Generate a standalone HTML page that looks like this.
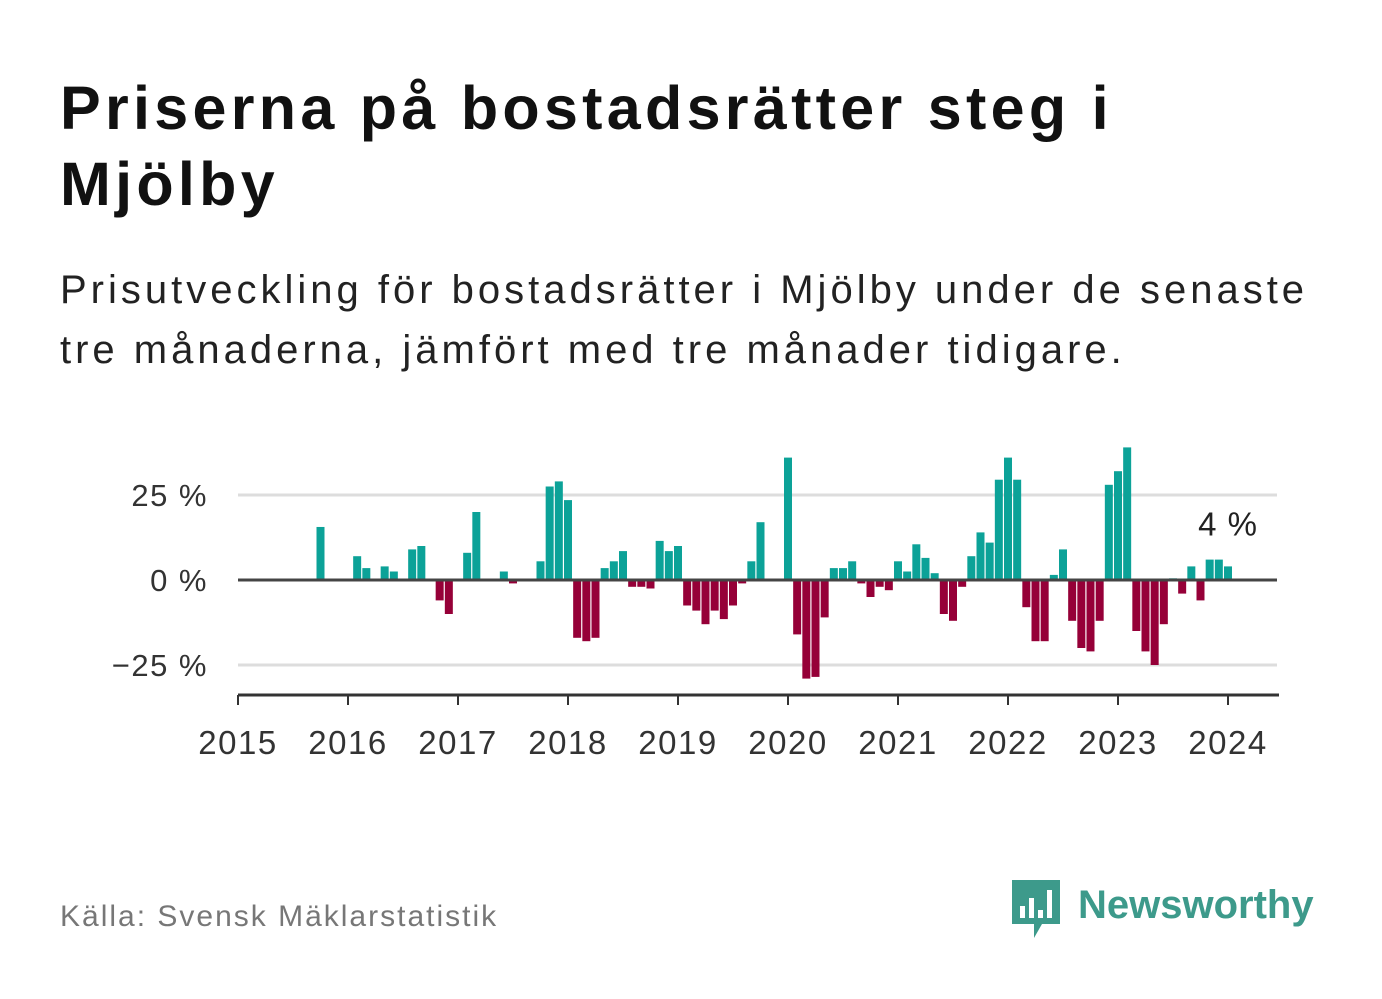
<!DOCTYPE html>
<html><head><meta charset="utf-8"><style>
body{margin:0;background:#fff;width:1382px;height:999px;overflow:hidden;font-family:"Liberation Sans","DejaVu Sans",sans-serif;}
h1{position:absolute;left:60px;top:70px;margin:0;font-size:61px;line-height:76px;font-weight:bold;color:#111;letter-spacing:4.3px;white-space:nowrap;}
.sub{position:absolute;left:60px;top:260px;font-size:40px;line-height:60px;color:#222;letter-spacing:4px;white-space:nowrap;}
.src{position:absolute;left:60px;top:900px;font-size:30px;color:#777;letter-spacing:2px;}
.logo{position:absolute;left:1012px;top:878px;}
</style></head><body>
<h1>Priserna på bostadsrätter steg i<br>Mjölby</h1>
<div class="sub">Prisutveckling för bostadsrätter i Mjölby under de senaste<br>tre månaderna, jämfört med tre månader tidigare.</div>
<svg id="chart" width="1382" height="999" style="position:absolute;left:0;top:0"></svg>
<div class="src">Källa: Svensk Mäklarstatistik</div>
<div class="logo">
<svg width="310" height="62"><path d="M0 2h48v44H30l-8 14v-14H0z" fill="#3d9a8b"/><rect x="8" y="28" width="5" height="12" fill="#fff"/><rect x="17" y="20" width="5" height="20" fill="#fff"/><rect x="26" y="32" width="5" height="8" fill="#fff"/><rect x="35" y="12" width="5" height="28" fill="#fff"/><text x="66" y="40" font-size="40" font-weight="bold" fill="#3d9a8b" font-family="Liberation Sans, sans-serif">Newsworthy</text></svg></div>
<script>
const months=[9,13,14,16,17,19,20,22,23,25,26,29,30,33,34,35,36,37,38,39,40,41,42,43,44,45,46,47,48,49,50,51,52,53,54,55,56,57,60,61,62,63,64,65,66,67,68,69,70,71,72,73,74,75,76,77,78,79,80,81,82,83,84,85,86,87,88,89,90,91,92,93,94,95,96,97,98,99,100,101,102,103,104,105,106,107,108];
const values=[15.6,7,3.5,4,2.5,9,10,-6,-10,8,20,2.5,-1,5.5,27.5,29,23.5,-17,-18,-17,3.5,5.5,8.5,-2,-2,-2.5,11.5,8.5,10,-7.5,-9,-13,-9,-11.5,-7.5,-1,5.5,17,36,-16,-29,-28.5,-11,3.5,3.5,5.5,-1,-5,-2,-3,5.5,2.5,10.5,6.5,2,-10,-12,-2,7,14,11,29.5,36,29.5,-8,-18,-18,1.5,9,-12,-20,-21,-12,28,32,39,-15,-21,-25,-13,0.5,-4,4,-6,6,6,4];
const yTicks=[25,0,-25];
const yTickLabels=["25 %","0 %","−25 %"];
const years=[2015,2016,2017,2018,2019,2020,2021,2022,2023,2024];
const NS="http://www.w3.org/2000/svg",svg=document.getElementById('chart');
const x=m=>238+m*(110/12);
const y=v=>580-v*3.4;
function el(t,a){const e=document.createElementNS(NS,t);for(const k in a)e.setAttribute(k,a[k]);svg.appendChild(e);return e;}
yTicks.forEach((t,i)=>{
 if(t!==0){const g=el('line',{x1:238,x2:1277,y1:y(t),y2:y(t),stroke:'#ddd','stroke-width':3});
 
 }
 const l=el('text',{x:208,y:y(t)+11,'text-anchor':'end','font-size':31,'letter-spacing':1.5,fill:'#333'});l.textContent=yTickLabels[i];
 
 
});
months.forEach((m,i)=>{const v=values[i];
 const r=el('rect',{x:x(m)-4,width:8,y:v>=0?y(v):y(0),height:Math.abs(v)*3.4,fill:v>=0?'#0ca298':'#960038'});
 
 
});
const z=el('line',{x1:238,x2:1277,y1:y(0),y2:y(0),stroke:'#444','stroke-width':3});


const ax=el('line',{x1:238,x2:1279,y1:695,y2:695,stroke:'#333','stroke-width':3});


years.forEach((yr,i)=>{const xx=x(i*12);
 const t=el('line',{x1:xx,x2:xx,y1:695,y2:705,stroke:'#333','stroke-width':2});
 
 
 const l=el('text',{x:xx,y:754,'text-anchor':'middle','font-size':33,'letter-spacing':1.5,fill:'#333'});l.textContent=yr;
 
 
});
const last=values[values.length-1];
const a=el('text',{x:1258,y:y(last)-31,'text-anchor':'end','font-size':33,'letter-spacing':1,fill:'#222'});a.textContent=Math.round(last)+' %';


</script>
</body></html>
